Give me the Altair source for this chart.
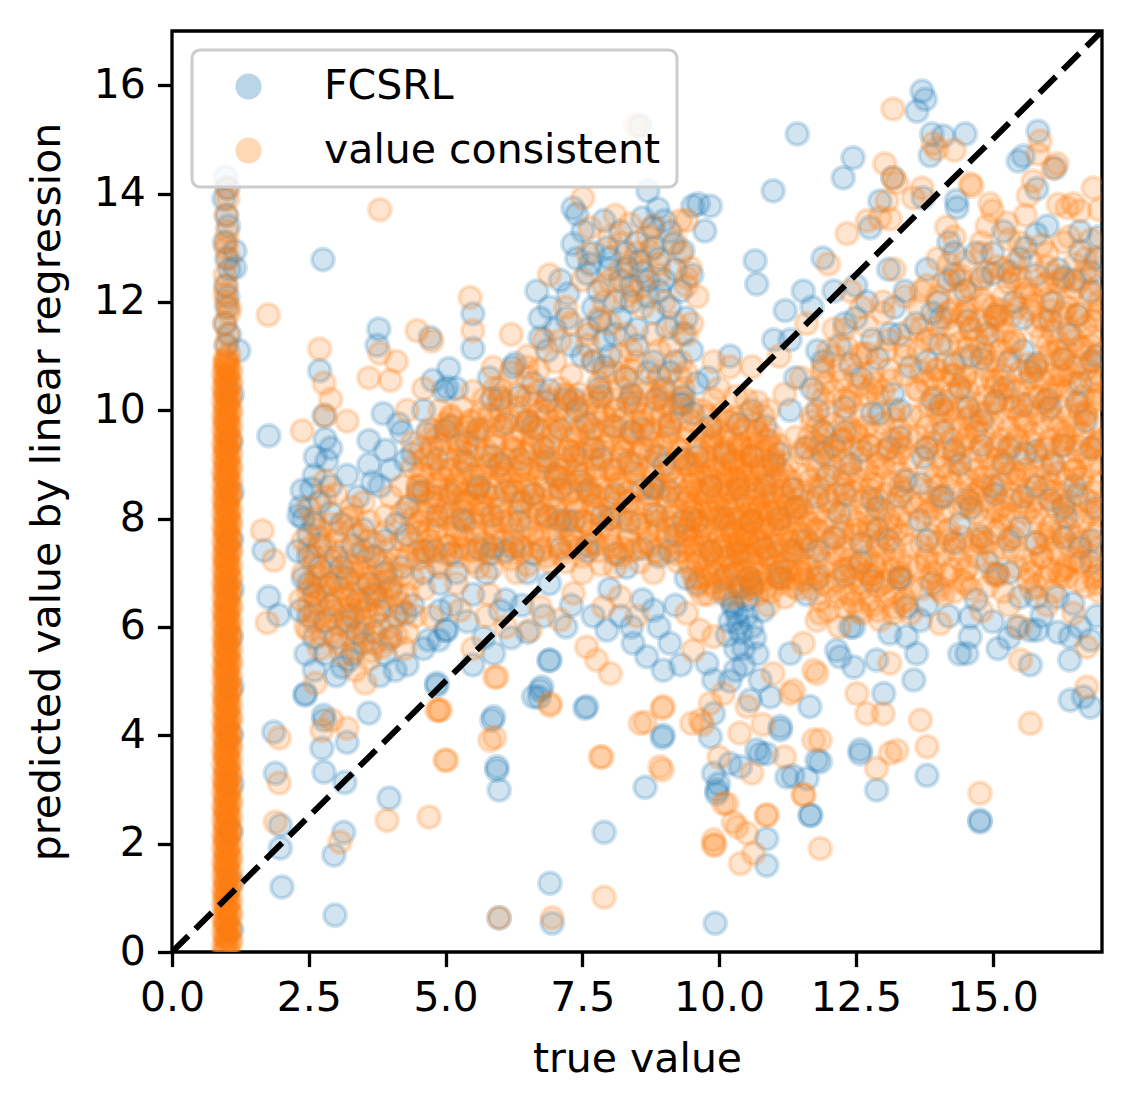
import altair as alt
import pandas as pd

# ---- data (x, y pairs) ----
blue_stripe = [
0.98,14.3, 1.02,14.1, 0.95,13.9, 1.0,13.6, 1.03,13.4, 0.96,13.1, 1.15,12.94, 1.0,12.8, 1.05,12.6, 1.15,12.63,
0.98,12.3, 1.02,12.1, 1.0,11.9, 0.97,11.6, 1.05,11.4, 1.22,11.1, 1.0,11.2,
1.09,0.4, 1.1,1.3, 1.08,2.2, 1.1,3.1, 1.09,4.0, 1.1,4.9, 1.08,5.8, 1.1,6.7, 1.09,7.6, 1.1,8.5, 1.08,9.4, 1.1,10.3]

blue_left = [
1.77,9.53, 1.68,7.41, 1.77,6.55, 1.95,6.22, 1.86,4.06, 1.89,3.3, 1.98,2.34, 1.98,1.92, 2.01,1.2, 2.98,0.68,
2.43,4.74, 2.78,4.28, 2.74,3.76, 3.2,3.87, 2.78,3.32, 3.16,3.13, 3.6,4.41, 3.14,2.21, 2.96,1.79, 3.97,2.84,
2.76,12.78, 3.78,11.5, 3.75,11.2, 2.7,10.73, 2.78,9.9, 2.8,9.47, 2.83,9.07, 2.62,9.14, 3.6,9.44, 2.38,8.52,
2.35,8.21, 2.32,8.06, 3.66,8.67, 4.14,9.75, 5.0,9.63, 3.9,9.26, 4.27,9.07, 4.72,11.34, 5.06,10.77, 4.97,10.36,
4.77,10.55, 3.86,9.94, 4.66,9.57, 3.11,5.26, 3.23,5.39, 4.08,5.2, 4.27,6.25, 4.69,5.76, 4.88,5.76, 5.0,5.94,
4.84,4.96, 2.77,4.37, 4.84,4.92, 2.44,4.77,
2.4,8.0, 2.5,7.7, 2.6,7.9, 2.7,8.3, 2.9,8.1, 3.1,7.9, 2.5,7.3, 2.7,7.1, 2.4,6.9, 2.6,6.6, 2.9,6.8, 3.0,7.3,
3.3,7.5, 3.5,7.8, 3.7,7.3, 3.9,7.6, 4.1,7.9, 4.3,8.2, 4.5,8.5, 3.2,6.9, 3.4,6.5, 3.6,6.8, 3.8,6.3, 4.0,6.7,
4.2,7.1, 2.8,6.1, 3.0,5.8, 3.2,6.1, 3.5,5.7, 3.7,5.9, 3.9,5.5, 2.5,6.2, 2.6,5.8, 3.3,5.5, 4.4,6.4, 4.6,7.0,
4.8,7.4, 2.9,8.6, 3.4,8.4, 3.8,8.6, 4.0,8.9, 4.4,9.2, 2.55,8.55,
2.3,7.4, 2.35,6.3, 2.45,5.5, 2.6,5.2, 3.0,5.1, 3.8,5.1, 4.3,5.3, 4.6,5.6, 4.9,6.3, 4.9,6.8,
2.5,6.8, 2.9,6.4, 3.3,6.2, 3.7,6.6, 4.1,6.2, 2.7,7.5, 3.1,7.1, 3.5,7.4, 3.9,7.0, 4.3,7.7, 2.8,5.5, 3.4,5.9, 4.0,5.8]

blue_middle = [
5.5,11.78, 5.5,11.14, 6.23,10.79, 6.27,10.86, 6.67,12.2, 7.24,12.15, 6.73,11.7, 7.22,11.7, 7.33,13.73, 7.4,13.62,
7.51,13.31, 7.33,13.07, 8.7,14.05, 8.88,13.72, 8.79,13.37, 9.52,13.77, 7.64,12.7, 7.59,12.52, 7.95,13.0, 8.0,12.81,
8.32,12.63, 8.56,12.76, 9.16,13.07, 9.34,12.94, 7.7,11.89, 7.82,11.65, 9.05,11.52, 9.34,11.41, 6.73,11.34, 6.86,11.1,
5.03,10.42, 9.34,10.12, 9.52,9.94, 8.56,15.25, 9.62,13.81, 9.84,13.77, 9.74,13.31, 8.2,12.4, 8.7,12.4, 8.4,12.0,
8.9,12.2, 8.1,11.4, 8.5,11.2, 8.8,10.9, 9.1,10.7, 7.9,10.8, 8.3,10.6, 7.5,11.0, 6.9,10.37, 7.2,10.2, 6.0,10.2,
5.75,6.99, 5.81,7.35, 7.46,8.7, 7.22,7.97, 8.8,8.58, 8.31,7.1, 5.87,7.47, 6.23,7.47, 7.09,7.96, 8.79,8.57,
5.3,8.0, 5.6,8.6, 6.0,9.0, 6.4,8.3, 6.8,9.3, 7.0,8.8, 7.7,9.3, 8.0,8.0, 8.4,9.6, 9.0,9.0, 9.2,7.7, 8.9,7.3,
5.2,7.0, 5.5,6.6, 6.1,6.5, 6.5,7.0, 6.9,6.8, 7.6,7.5, 8.6,6.5, 8.2,6.2, 5.4,9.4, 6.5,9.8, 7.4,10.0,
5.02,5.94, 5.88,5.51, 6.91,5.39, 6.73,4.83, 7.58,4.53, 5.88,4.34, 5.94,3.42, 8.43,5.7, 8.68,5.45, 8.98,5.2,
8.98,4.0, 7.95,5.94, 8.8,6.31, 6.61,4.71, 5.85,4.28, 5.94,3.36, 5.98,2.99, 6.91,1.27, 5.98,0.63, 6.95,0.53,
7.9,2.21, 7.55,4.5, 6.71,4.7, 6.76,4.89, 6.89,5.38, 8.96,3.96, 8.65,3.04, 6.5,5.9, 7.2,6.0, 5.5,5.3, 6.2,5.8,
7.6,11.5, 7.9,11.3, 8.2,11.7, 8.5,11.5, 8.8,11.8, 9.1,11.9, 9.4,11.7, 7.8,12.2, 8.1,12.0, 8.4,12.3,
8.7,12.1, 9.0,12.4, 9.3,12.2, 7.7,12.9, 8.0,12.6, 8.3,12.9, 8.6,12.55, 8.9,12.8, 9.2,12.6, 9.5,12.5,
8.2,13.3, 8.5,13.1, 8.8,13.0, 9.1,13.3, 7.9,13.5, 8.6,13.55, 9.0,13.5, 7.4,12.8, 7.1,12.4, 6.9,11.9,
7.0,11.5, 7.3,11.2, 7.7,10.9, 8.0,11.0, 8.7,10.7, 9.2,10.9, 9.5,11.1, 8.4,10.3, 9.0,10.4, 9.6,10.5,
5.1,6.4, 5.4,6.1, 5.7,5.8, 6.0,6.3, 6.4,6.4, 6.8,6.2, 7.3,6.4, 7.7,6.2, 8.0,6.7, 8.4,6.0,
8.9,6.0, 9.2,6.4, 9.4,6.9, 9.1,5.7, 9.3,5.3]

blue_band = [
4.6,7.4, 5.1,7.35, 5.6,7.45, 6.1,7.4, 6.6,7.35, 7.1,7.45, 7.6,7.4, 8.1,7.35, 8.6,7.45, 9.1,7.4,
4.85,8.05, 5.35,7.95, 5.85,8.05, 6.35,7.95, 6.85,8.05, 7.35,7.95, 7.85,8.05, 8.35,7.95, 8.85,8.05, 9.35,7.95,
4.6,8.5, 5.1,8.45, 5.6,8.55, 6.1,8.5, 6.6,8.45, 7.1,8.55, 7.6,8.5, 8.1,8.45, 8.6,8.55, 9.1,8.5,
4.85,9.1, 5.35,9.05, 5.85,9.15, 6.35,9.1, 6.85,9.05, 7.35,9.15, 7.85,9.1, 8.35,9.05, 8.85,9.15, 9.35,9.1,
5.1,9.7, 5.6,9.65, 6.1,9.75, 6.6,9.7, 7.1,9.65, 7.6,9.75, 8.1,9.7, 8.6,9.65, 9.1,9.75,
5.85,10.2, 6.35,10.25, 6.85,10.15, 7.35,10.2, 7.85,10.25, 8.35,10.15, 8.85,10.2, 9.35,10.25,
9.6,6.8, 10.1,6.9, 10.6,6.8, 11.1,6.9, 9.85,7.4, 10.35,7.35, 10.85,7.45, 11.35,7.4, 9.6,7.95, 10.1,8.0,
10.6,7.95, 11.1,8.0, 9.85,8.6, 10.35,8.55, 10.85,8.6, 11.35,8.55, 9.6,9.15, 10.1,9.2, 10.6,9.15, 11.1,9.2,
9.85,9.7, 10.35,9.75, 10.85,9.7,
11.8,6.9, 12.3,6.95, 12.8,6.85, 13.3,6.9, 11.6,7.6, 12.1,7.65, 12.6,7.55, 13.1,7.6, 11.8,8.4, 12.3,8.45,
12.8,8.35, 13.3,8.4, 11.6,9.3, 12.1,9.35, 12.6,9.25, 13.1,9.3, 11.8,10.0, 12.3,10.05, 12.8,9.95, 13.3,10.0,
11.9,10.9, 12.4,10.85, 12.9,10.95, 13.3,11.4, 12.5,11.7,
13.8,7.6, 14.3,7.55, 14.8,7.65, 15.3,7.6, 15.8,7.55, 16.3,7.65, 16.8,7.6,
14.05,8.4, 14.55,8.35, 15.05,8.45, 15.55,8.4, 16.05,8.35, 16.55,8.45,
13.8,9.3, 14.3,9.25, 14.8,9.35, 15.3,9.3, 15.8,9.25, 16.3,9.35, 16.8,9.3,
14.05,10.1, 14.55,10.05, 15.05,10.15, 15.55,10.1, 16.05,10.05, 16.55,10.15,
13.8,10.9, 14.3,10.85, 14.8,10.95, 15.3,10.9, 15.8,10.85, 16.3,10.95, 16.8,10.9,
14.05,11.7, 14.55,11.65, 15.05,11.75, 15.55,11.7, 16.05,11.65, 16.55,11.75,
14.3,12.5, 14.8,12.45, 15.3,12.55, 15.8,12.5, 16.3,12.45, 16.8,12.55]

blue_upper = [
11.4,10.6, 11.8,11.1, 12.3,11.6, 12.8,11.3, 13.2,11.9, 13.6,11.6, 14.0,12.0, 14.5,12.2, 15.0,12.9, 15.5,12.8,
16.1,12.0, 16.5,12.4, 16.9,12.8, 14.2,13.1, 15.6,13.0,
11.9,9.6, 12.4,9.0, 12.2,8.1, 12.9,7.8, 13.4,8.7, 14.1,9.6, 14.6,8.2, 15.2,9.0, 15.8,8.6, 16.3,8.2,
16.6,10.5, 15.7,10.7, 14.9,11.4, 14.4,10.4, 13.9,10.2,
5.2,10.4, 5.8,10.6, 6.6,10.5, 7.8,10.4, 4.6,10.0, 4.2,9.6, 3.6,9.0, 3.2,8.8, 2.6,8.8, 2.9,9.3]

blue_right = [
13.71,15.89, 13.77,15.74, 13.62,15.52, 11.43,15.1, 13.89,15.1, 14.1,15.06, 14.5,15.1, 13.86,14.7, 12.45,14.66, 12.27,14.29,
10.99,14.05, 15.83,15.15, 15.47,14.6, 15.56,14.69, 16.14,14.47, 15.81,14.09, 13.73,13.92, 14.35,13.74, 10.66,12.76, 10.69,12.33,
11.54,12.2, 11.21,11.84, 11.9,12.81, 12.76,13.37, 12.94,13.86, 14.34,13.87, 13.18,14.29,
13.12,11.41, 13.18,10.3, 13.73,9.13, 14.04,11.22, 15.01,12.52, 15.8,13.25, 16.6,12.94, 15.56,11.1, 16.35,8.03, 15.5,7.84,
14.4,7.9, 13.67,7.97, 13.43,6.37, 14.59,6.18, 15.5,6.55, 15.8,6.55, 16.47,6.43, 15.68,5.94, 13.61,5.51, 16.41,5.39,
13.12,5.88, 12.94,9.94, 9.29,10.12, 10.26,6.37, 10.38,6.74, 12.46,6.0, 10.33,6.25, 10.2,6.1, 10.4,5.9, 10.5,6.5,
10.6,6.0, 10.1,6.6, 10.45,5.6, 10.7,5.5, 10.3,5.2, 10.55,6.9, 13.68,8.64, 15.08,6.98, 16.18,6.55, 16.6,7.47,
16.8,7.2, 12.4,6.0, 12.15,5.57, 12.46,5.26, 12.88,5.39, 13.01,4.77, 13.56,5.02, 13.43,5.82, 13.68,6.12, 14.59,5.82,
14.53,5.51, 15.44,6.0, 15.81,5.94, 15.69,5.3, 16.79,5.76, 16.42,5.82, 16.42,4.65, 16.66,4.71, 16.79,4.52, 12.58,3.66,
12.88,2.99, 13.8,3.26, 14.77,2.43, 11.67,2.53, 11.61,3.2, 11.24,3.23, 11.35,3.25, 11.85,3.51, 10.87,3.66, 10.75,3.66,
10.39,3.42, 9.96,2.99, 9.99,3.1, 10.75,5.02, 10.94,4.71, 11.12,4.16, 9.84,3.97, 9.9,3.3, 9.78,5.33, 9.9,5.02,
11.3,5.51, 12.21,5.45, 12.58,3.73, 11.79,3.54, 10.69,3.73, 10.2,3.48, 11.12,4.1, 11.66,4.53, 10.57,4.65, 9.9,4.4,
10.87,2.09, 10.87,1.6, 11.67,2.52, 9.93,0.53, 14.77,2.4, 9.96,2.92,
11.0,9.0, 11.4,8.2, 11.8,7.4, 12.0,8.8, 12.3,9.6, 12.6,10.6, 12.2,11.2, 11.7,10.4, 11.3,10.0, 12.9,8.2,
13.3,9.5, 13.5,10.8, 13.9,11.8, 14.2,12.4, 14.6,11.0, 14.8,9.8, 15.2,10.4, 15.6,9.2, 16.0,10.2, 16.4,11.4,
16.8,12.2, 16.2,12.6, 15.4,12.0, 14.4,9.0, 14.1,8.4, 15.0,8.6, 16.1,9.0, 16.7,9.8, 16.9,11.0, 14.9,7.2,
15.3,7.0, 13.9,6.8, 12.6,7.2, 11.6,6.6, 11.1,7.0, 16.5,8.6, 16.9,8.2, 13.1,12.6, 12.5,12.3, 11.0,11.3,
10.2,11.0, 9.8,10.6, 10.6,10.0, 11.9,9.2, 14.7,12.9, 16.95,13.2,
13.3,6.9, 13.8,6.4, 14.2,6.2, 14.7,6.5, 15.0,6.1, 15.3,5.8, 15.9,6.2, 16.2,5.9, 16.6,6.0, 16.9,6.2,
14.4,5.5, 15.1,5.6, 11.3,11.3, 11.7,11.9, 12.1,12.2, 12.7,12.0, 13.4,12.2, 13.8,12.6, 14.3,12.9, 15.2,13.3,
16.0,13.4, 16.6,13.3, 10.25,6.45, 10.35,6.05, 10.15,5.85, 10.5,6.2, 10.6,6.7, 10.3,5.6, 10.45,5.3, 10.2,5.0,
10.65,5.8, 10.8,6.3]

orange_stripe = [
0.96,0.02, 1.03,0.09, 0.99,0.15, 1.06,0.22, 0.97,0.28, 1.01,0.35, 1.04,0.41, 0.98,0.47,
0.96,0.54, 1.03,0.6, 0.99,0.66, 1.06,0.73, 0.97,0.8, 1.01,0.86, 1.04,0.92, 0.98,0.99,
0.96,1.05, 1.03,1.12, 0.99,1.18, 1.06,1.24, 0.97,1.31, 1.01,1.37, 1.04,1.44, 0.98,1.5,
0.96,1.57, 1.03,1.63, 0.99,1.69, 1.06,1.76, 0.97,1.82, 1.01,1.89, 1.04,1.95, 0.98,2.02,
0.96,2.08, 1.03,2.15, 0.99,2.21, 1.06,2.27, 0.97,2.34, 1.01,2.4, 1.04,2.47, 0.98,2.53,
0.96,2.6, 1.03,2.66, 0.99,2.72, 1.06,2.79, 0.97,2.85, 1.01,2.92, 1.04,2.98, 0.98,3.05,
0.96,3.11, 1.03,3.18, 0.99,3.24, 1.06,3.3, 0.97,3.37, 1.01,3.43, 1.04,3.5, 0.98,3.56,
0.96,3.63, 1.03,3.69, 0.99,3.75, 1.06,3.82, 0.97,3.88, 1.01,3.95, 1.04,4.01, 0.98,4.08,
0.96,4.14, 1.03,4.21, 0.99,4.27, 1.06,4.33, 0.97,4.4, 1.01,4.46, 1.04,4.53, 0.98,4.59,
0.96,4.66, 1.03,4.72, 0.99,4.78, 1.06,4.85, 0.97,4.91, 1.01,4.98, 1.04,5.04, 0.98,5.11,
0.96,5.17, 1.03,5.24, 0.99,5.3, 1.06,5.36, 0.97,5.43, 1.01,5.49, 1.04,5.56, 0.98,5.62,
0.96,5.69, 1.03,5.75, 0.99,5.81, 1.06,5.88, 0.97,5.94, 1.01,6.01, 1.04,6.07, 0.98,6.14,
0.96,6.2, 1.03,6.27, 0.99,6.33, 1.06,6.39, 0.97,6.46, 1.01,6.52, 1.04,6.59, 0.98,6.65,
0.96,6.72, 1.03,6.78, 0.99,6.84, 1.06,6.91, 0.97,6.97, 1.01,7.04, 1.04,7.1, 0.98,7.17,
0.96,7.23, 1.03,7.3, 0.99,7.36, 1.06,7.42, 0.97,7.49, 1.01,7.55, 1.04,7.62, 0.98,7.68,
0.96,7.75, 1.03,7.81, 0.99,7.87, 1.06,7.94, 0.97,8.0, 1.01,8.07, 1.04,8.13, 0.98,8.2,
0.96,8.26, 1.03,8.33, 0.99,8.39, 1.06,8.45, 0.97,8.52, 1.01,8.58, 1.04,8.65, 0.98,8.71,
0.96,8.78, 1.03,8.84, 0.99,8.9, 1.06,8.97, 0.97,9.03, 1.01,9.1, 1.04,9.16, 0.98,9.23,
0.96,9.29, 1.03,9.36, 0.99,9.42, 1.06,9.48, 0.97,9.55, 1.01,9.61, 1.04,9.68, 0.98,9.74,
0.96,9.81, 1.03,9.87, 0.99,9.93, 1.06,10.0, 0.97,10.06, 1.01,10.13, 1.04,10.19, 0.98,10.26,
0.96,10.32, 1.03,10.39, 0.99,10.45, 1.06,10.51, 0.97,10.58, 1.01,10.64, 1.04,10.71, 0.98,10.77,
0.96,10.84, 1.03,10.9, 0.99,10.96, 1.04,11.03,
0.98,11.2, 1.02,11.4, 0.96,11.6, 1.04,11.8, 0.99,12.0, 1.0,12.3, 0.97,12.5, 1.03,12.8, 0.98,13.0, 1.01,13.3,
0.99,13.6, 1.02,13.9, 1.0,14.1, 0.97,12.15, 1.05,11.9, 1.0,13.1]

orange_stripe_b = [
1.0,0.05, 0.94,0.12, 1.08,0.18, 0.99,0.25, 1.02,0.31, 0.94,0.38, 1.08,0.44, 1.01,0.5,
1.0,0.57, 0.94,0.63, 1.08,0.69, 0.99,0.76, 1.02,0.83, 0.94,0.89, 1.08,0.95, 1.01,1.02,
1.0,1.08, 0.94,1.15, 1.08,1.21, 0.99,1.27, 1.02,1.34, 0.94,1.4, 1.08,1.47, 1.01,1.53,
1.0,1.6, 0.94,1.66, 1.08,1.72, 0.99,1.79, 1.02,1.85, 0.94,1.92, 1.08,1.98, 1.01,2.05,
1.0,2.11, 0.94,2.18, 1.08,2.24, 0.99,2.3, 1.02,2.37, 0.94,2.43, 1.08,2.5, 1.01,2.56,
1.0,2.63, 0.94,2.69, 1.08,2.75, 0.99,2.82, 1.02,2.88, 0.94,2.95, 1.08,3.01, 1.01,3.08,
1.0,3.14, 0.94,3.21, 1.08,3.27, 0.99,3.33, 1.02,3.4, 0.94,3.46, 1.08,3.53, 1.01,3.59,
1.0,3.66, 0.94,3.72, 1.08,3.78, 0.99,3.85, 1.02,3.91, 0.94,3.98, 1.08,4.04, 1.01,4.11,
1.0,4.17, 0.94,4.24, 1.08,4.3, 0.99,4.36, 1.02,4.43, 0.94,4.49, 1.08,4.56, 1.01,4.62,
1.0,4.69, 0.94,4.75, 1.08,4.81, 0.99,4.88, 1.02,4.94, 0.94,5.01, 1.08,5.07, 1.01,5.14,
1.0,5.2, 0.94,5.27, 1.08,5.33, 0.99,5.39, 1.02,5.46, 0.94,5.52, 1.08,5.59, 1.01,5.65,
1.0,5.72, 0.94,5.78, 1.08,5.84, 0.99,5.91, 1.02,5.97, 0.94,6.04, 1.08,6.1, 1.01,6.17,
1.0,6.23, 0.94,6.3, 1.08,6.36, 0.99,6.42, 1.02,6.49, 0.94,6.55, 1.08,6.62, 1.01,6.68,
1.0,6.75, 0.94,6.81, 1.08,6.87, 0.99,6.94, 1.02,7.0, 0.94,7.07, 1.08,7.13, 1.01,7.2,
1.0,7.26, 0.94,7.33, 1.08,7.39, 0.99,7.45, 1.02,7.52, 0.94,7.58, 1.08,7.65, 1.01,7.71,
1.0,7.78, 0.94,7.84, 1.08,7.9, 0.99,7.97, 1.02,8.03, 0.94,8.1, 1.08,8.16, 1.01,8.23,
1.0,8.29, 0.94,8.36, 1.08,8.42, 0.99,8.48, 1.02,8.55, 0.94,8.61, 1.08,8.68, 1.01,8.74,
1.0,8.81, 0.94,8.87, 1.08,8.93, 0.99,9.0, 1.02,9.06, 0.94,9.13, 1.08,9.19, 1.01,9.26,
1.0,9.32, 0.94,9.39, 1.08,9.45, 0.99,9.51, 1.02,9.58, 0.94,9.64, 1.08,9.71, 1.01,9.77,
1.0,9.84, 0.94,9.9, 1.08,9.96, 0.99,10.03, 1.02,10.09, 0.94,10.16, 1.08,10.22, 1.01,10.29,
1.0,10.35, 0.94,10.42, 1.08,10.48, 0.99,10.54, 1.02,10.61, 0.94,10.67, 1.08,10.74, 1.01,10.8,
1.0,10.87, 0.97,10.93]

orange_left = [
3.8,13.7, 1.76,11.76, 3.8,11.05, 4.48,11.47, 4.75,11.28, 2.7,11.13, 2.78,10.5, 3.6,10.6, 3.99,10.55, 2.38,9.62,
2.8,9.9, 1.65,7.78, 1.86,7.23, 1.74,6.08, 1.96,3.95, 1.96,3.12, 1.89,2.4, 2.92,4.28, 3.2,4.13, 2.74,4.09,
3.07,2.03, 3.93,2.43, 4.7,2.49, 4.99,3.54, 4.84,4.46, 2.62,4.96, 3.53,4.96, 3.84,5.63, 4.88,4.46, 2.5,5.94,
2.8,8.7, 3.29,8.21, 2.56,6.74, 4.75,6.19, 2.9,10.2, 3.2,9.8, 4.3,10.0, 4.6,10.4, 4.1,10.9,
2.5,6.4, 2.6,6.1, 2.7,6.7, 2.8,6.3, 2.9,5.9, 3.0,6.5, 3.1,6.9, 3.2,6.2, 3.3,5.8, 3.3,6.6,
3.4,6.3, 3.5,6.9, 3.5,6.0, 3.6,6.5, 3.7,6.2, 3.7,5.7, 3.8,6.8, 3.9,6.4, 4.0,6.0, 4.1,6.6,
4.2,6.3, 4.3,5.9, 3.4,7.1, 3.6,7.3, 2.9,7.1, 2.6,7.3, 2.4,7.6, 2.7,7.8, 3.0,7.6, 3.2,8.0,
2.5,8.2, 2.8,8.4, 3.4,7.7, 3.1,5.5, 3.6,5.4, 2.7,5.6, 3.9,7.2, 4.4,6.9, 4.6,7.3, 4.2,7.6,
3.05,6.05, 3.45,6.45, 3.25,6.35, 3.55,6.15, 3.15,6.6, 3.75,6.55, 2.85,6.55, 2.65,6.9, 4.0,7.0, 3.35,5.2,
2.45,6.0, 2.75,5.85, 3.05,5.7, 3.35,5.6, 3.65,5.55, 3.95,5.75, 4.25,5.6,
2.35,6.5, 2.65,6.45, 2.95,6.3, 3.25,6.5, 3.55,6.35, 3.85,6.55, 4.15,6.45, 4.45,6.2,
2.4,7.0, 2.7,6.95, 3.0,6.85, 3.3,7.0, 3.6,6.9, 3.9,6.85, 4.2,6.95,
2.5,7.45, 2.8,7.5, 3.1,7.4, 3.4,7.35, 3.7,7.55, 4.0,7.45, 4.3,7.3,
2.6,8.0, 2.9,7.9, 3.3,8.05, 3.6,7.95, 3.9,8.05, 4.2,8.1, 3.0,8.45, 3.5,8.3, 4.0,8.4,
2.6,6.25, 2.9,6.15, 3.2,6.0, 3.5,5.85, 3.8,6.05, 4.1,5.85, 2.5,6.65, 2.8,6.75, 3.1,6.7, 3.4,6.8,
3.7,6.7, 4.0,6.75, 4.3,6.6, 2.6,7.15, 2.9,7.25, 3.2,7.2, 3.5,7.1, 3.8,7.15, 4.1,7.25, 2.7,7.65,
3.0,7.75, 3.3,7.8, 3.6,7.6, 3.9,7.75]

orange_middle = [
4.4,8.0, 4.5,8.6, 4.6,9.1, 4.7,7.8, 4.8,8.3, 4.9,8.9, 5.0,7.5, 5.0,9.4, 5.1,8.1, 5.2,8.6,
5.3,7.7, 5.3,9.1, 5.4,8.3, 5.5,8.8, 5.5,7.4, 5.6,9.5, 5.7,8.0, 5.7,8.5, 5.8,9.0, 5.9,7.6,
5.9,9.8, 6.0,8.3, 4.5,7.4, 4.8,9.6, 5.1,9.9, 5.4,9.7, 4.2,8.6, 4.4,9.4, 4.9,7.1, 5.6,7.1,
5.2,6.8, 4.6,6.7, 5.8,6.6, 5.35,8.45, 5.05,8.5, 4.85,8.65, 5.65,8.25,
6.1,8.8, 6.2,9.3, 6.2,7.9, 6.3,8.5, 6.4,9.8, 6.4,7.4, 6.5,8.9, 6.6,8.2, 6.6,9.4, 6.7,7.7,
6.8,8.6, 6.8,10.0, 6.9,9.1, 7.0,8.0, 7.0,9.6, 7.1,8.5, 7.2,10.3, 7.2,9.0, 7.3,7.5, 7.4,8.2,
7.4,9.5, 7.5,8.8, 7.6,10.1, 7.6,7.9, 7.7,9.1, 7.8,8.4, 7.8,10.5, 7.9,9.6, 8.0,7.6, 8.0,8.9,
8.1,10.0, 8.2,9.3, 8.3,8.3, 8.3,10.6, 8.4,7.4, 8.5,9.0, 8.6,9.9, 8.6,8.0, 8.7,10.4, 8.8,9.4,
8.9,7.8, 9.0,8.6, 9.0,10.1, 9.1,9.6, 9.2,8.2, 9.3,10.6, 9.4,9.0, 9.5,9.8, 6.0,10.4, 6.5,10.6,
7.0,10.9, 7.6,11.2, 8.2,11.0, 8.9,11.1, 9.4,11.4, 6.3,7.0, 6.9,7.2, 7.5,7.0, 8.1,7.1, 8.8,7.0,
9.3,7.4, 7.15,8.75, 6.75,9.05, 7.65,8.55, 8.15,8.65, 7.35,9.25, 6.45,8.65, 5.95,8.95, 8.45,9.55,
5.45,12.08, 5.5,11.47, 8.37,13.44, 7.51,13.92, 7.64,13.37, 9.29,13.5, 9.47,12.63, 9.41,12.45, 8.74,12.94, 8.43,12.2,
8.19,13.07, 7.09,11.28, 5.87,10.79, 6.49,10.79, 7.6,12.9, 6.9,12.5, 8.48,15.25, 9.41,13.5,
7.8,11.7, 8.3,11.4, 8.6,11.9, 9.2,11.6, 8.0,12.4, 8.9,12.5, 9.3,12.9, 8.4,12.7, 7.9,12.0, 9.6,12.1,
8.7,13.2, 8.1,13.6, 7.3,11.6, 6.8,11.3,
7.7,10.9, 8.1,10.7, 8.5,10.9, 8.9,10.6, 9.3,10.9, 7.6,11.4, 8.0,11.6, 8.4,11.1, 8.8,11.4, 9.1,11.2,
9.5,11.6, 7.9,12.3, 8.3,12.1, 8.6,12.3, 9.0,12.0, 9.4,12.3, 8.2,12.6, 8.5,12.9, 8.9,12.7, 9.2,13.1,
8.0,13.2, 8.8,13.4, 7.5,12.4, 7.2,11.9, 6.5,11.0, 6.2,11.4,
5.27,6.31, 7.34,6.62, 7.89,6.37, 8.19,6.55, 6.73,6.37, 6.55,5.94, 7.09,6.13, 7.58,5.63, 7.76,5.39, 8.01,5.14,
5.94,5.08, 6.91,4.59, 5.81,3.91, 5.02,3.54, 4.9,4.47, 5.9,3.96, 5.9,5.07, 6.91,4.55, 7.86,3.6, 8.96,4.5,
8.65,4.24, 8.96,3.36, 9.5,4.22, 5.98,0.63, 6.95,0.63, 7.9,1.01, 5.75,6.2, 6.1,6.0, 8.5,6.2, 5.5,5.6]

orange_band = [
4.5,7.25, 4.85,7.15, 5.2,7.3, 5.5,7.2, 5.85,7.1, 6.2,7.25, 6.5,7.15, 6.85,7.3, 7.2,7.2, 7.5,7.3, 7.85,7.15, 8.2,7.3, 8.55,7.2, 8.9,7.35, 9.25,7.2,
4.4,7.55, 4.7,7.6, 5.05,7.5, 5.35,7.65, 5.7,7.55, 6.05,7.6, 6.35,7.5, 6.7,7.6, 7.05,7.5, 7.35,7.65, 7.7,7.55, 8.05,7.5, 8.35,7.6, 8.7,7.55, 9.05,7.65, 9.4,7.5,
4.5,7.9, 4.85,7.95, 5.15,7.85, 5.5,8.0, 5.85,7.9, 6.15,7.95, 6.5,7.85, 6.85,8.0, 7.2,7.9, 7.5,7.95, 7.85,7.85, 8.2,8.0, 8.5,7.9, 8.85,7.95, 9.2,7.85, 9.5,8.0,
4.35,8.25, 4.7,8.3, 5.0,8.2, 5.35,8.3, 5.7,8.25, 6.0,8.2, 6.35,8.3, 6.7,8.25, 7.0,8.2, 7.35,8.3, 7.7,8.25, 8.0,8.2, 8.35,8.3, 8.7,8.25, 9.05,8.2, 9.4,8.3,
4.5,8.6, 4.85,8.55, 5.2,8.65, 5.5,8.6, 5.85,8.55, 6.2,8.65, 6.5,8.6, 6.85,8.55, 7.2,8.65, 7.55,8.6, 7.85,8.55, 8.2,8.65, 8.55,8.6, 8.9,8.55, 9.2,8.65, 9.5,8.6,
4.4,8.95, 4.75,9.0, 5.1,8.9, 5.4,9.0, 5.75,8.95, 6.1,8.9, 6.4,9.0, 6.75,8.95, 7.1,8.9, 7.4,9.0, 7.75,8.95, 8.1,8.9, 8.4,9.0, 8.75,8.95, 9.1,8.9, 9.45,9.0,
4.55,9.3, 4.9,9.35, 5.25,9.25, 5.55,9.3, 5.9,9.35, 6.25,9.25, 6.55,9.3, 6.9,9.35, 7.25,9.25, 7.6,9.3, 7.9,9.35, 8.25,9.25, 8.6,9.3, 8.95,9.35, 9.3,9.25,
4.7,9.65, 5.05,9.7, 5.4,9.6, 5.7,9.65, 6.05,9.7, 6.4,9.6, 6.7,9.65, 7.05,9.7, 7.4,9.6, 7.7,9.65, 8.05,9.7, 8.4,9.6, 8.75,9.65, 9.1,9.7, 9.45,9.6,
4.9,10.0, 5.3,10.05, 5.65,9.95, 6.0,10.0, 6.35,10.05, 6.7,9.95, 7.05,10.0, 7.4,10.05, 7.75,9.95, 8.1,10.0, 8.45,10.05, 8.8,9.95, 9.15,10.0, 9.5,10.05,
5.5,10.35, 5.9,10.4, 6.3,10.3, 6.7,10.35, 7.1,10.4, 7.45,10.3, 7.85,10.35, 8.2,10.4, 8.6,10.3, 8.95,10.35, 9.35,10.4,
6.2,10.7, 6.7,10.75, 7.3,10.65, 7.9,10.7, 8.4,10.75, 8.9,10.65, 9.4,10.7]

orange_band_b = [
4.65,7.4, 5.0,7.35, 5.35,7.45, 5.7,7.4, 6.05,7.35, 6.4,7.45, 6.75,7.4, 7.1,7.35, 7.45,7.45, 7.8,7.4, 8.15,7.35, 8.5,7.45, 8.85,7.4, 9.2,7.35,
4.5,7.75, 4.85,7.8, 5.2,7.7, 5.55,7.75, 5.9,7.8, 6.25,7.7, 6.6,7.75, 6.95,7.8, 7.3,7.7, 7.65,7.75, 8.0,7.8, 8.35,7.7, 8.7,7.75, 9.05,7.8, 9.4,7.7,
4.6,8.1, 4.95,8.05, 5.3,8.15, 5.65,8.1, 6.0,8.05, 6.35,8.15, 6.7,8.1, 7.05,8.05, 7.4,8.15, 7.75,8.1, 8.1,8.05, 8.45,8.15, 8.8,8.1, 9.15,8.05, 9.5,8.15,
4.5,8.45, 4.85,8.4, 5.2,8.5, 5.55,8.45, 5.9,8.4, 6.25,8.5, 6.6,8.45, 6.95,8.4, 7.3,8.5, 7.65,8.45, 8.0,8.4, 8.35,8.5, 8.7,8.45, 9.05,8.4, 9.4,8.5,
4.6,8.8, 4.95,8.75, 5.3,8.85, 5.65,8.8, 6.0,8.75, 6.35,8.85, 6.7,8.8, 7.05,8.75, 7.4,8.85, 7.75,8.8, 8.1,8.75, 8.45,8.85, 8.8,8.8, 9.15,8.75, 9.5,8.85,
4.7,9.15, 5.05,9.1, 5.4,9.2, 5.75,9.15, 6.1,9.1, 6.45,9.2, 6.8,9.15, 7.15,9.1, 7.5,9.2, 7.85,9.15, 8.2,9.1, 8.55,9.2, 8.9,9.15, 9.25,9.1,
4.85,9.5, 5.2,9.45, 5.55,9.55, 5.9,9.5, 6.25,9.45, 6.6,9.55, 6.95,9.5, 7.3,9.45, 7.65,9.55, 8.0,9.5, 8.35,9.45, 8.7,9.55, 9.05,9.5, 9.4,9.45,
5.1,9.85, 5.45,9.8, 5.8,9.9, 6.15,9.85, 6.5,9.8, 6.85,9.9, 7.2,9.85, 7.55,9.8, 7.9,9.9, 8.25,9.85, 8.6,9.8, 8.95,9.9, 9.3,9.85,
5.7,10.2, 6.1,10.15, 6.5,10.25, 6.9,10.2, 7.3,10.15, 7.7,10.25, 8.1,10.2, 8.5,10.15, 8.9,10.25, 9.3,10.2]

orange_band_c = [
4.75,7.5, 5.25,7.45, 5.75,7.5, 6.25,7.55, 6.75,7.45, 7.25,7.5, 7.75,7.55, 8.25,7.45, 8.75,7.5, 9.25,7.55,
4.55,7.95, 5.05,8.0, 5.55,7.9, 6.05,7.95, 6.55,8.0, 7.05,7.9, 7.55,7.95, 8.05,8.0, 8.55,7.9, 9.05,7.95,
4.75,8.4, 5.25,8.35, 5.75,8.45, 6.25,8.4, 6.75,8.35, 7.25,8.45, 7.75,8.4, 8.25,8.35, 8.75,8.45, 9.25,8.4,
4.55,8.85, 5.05,8.9, 5.55,8.8, 6.05,8.85, 6.55,8.9, 7.05,8.8, 7.55,8.85, 8.05,8.9, 8.55,8.8, 9.05,8.85,
4.75,9.3, 5.25,9.35, 5.75,9.25, 6.25,9.3, 6.75,9.35, 7.25,9.25, 7.75,9.3, 8.25,9.35, 8.75,9.25, 9.25,9.3,
5.0,9.75, 5.5,9.8, 6.0,9.7, 6.5,9.75, 7.0,9.8, 7.5,9.7, 8.0,9.75, 8.5,9.8, 9.0,9.7,
6.0,10.25, 6.6,10.15, 7.2,10.25, 7.8,10.15, 8.4,10.25, 9.0,10.15]

orange_right = [
9.5,8.0, 9.6,9.0, 9.7,7.5, 9.7,10.0, 9.8,8.5, 9.9,9.5, 9.9,7.0, 10.0,8.0, 10.0,10.4, 10.1,9.0,
10.1,7.5, 10.2,8.5, 10.2,9.8, 10.3,7.0, 10.3,8.0, 10.4,9.3, 10.4,7.6, 10.5,8.8, 10.5,10.2, 10.6,7.2,
10.6,8.2, 10.7,9.6, 10.7,6.8, 10.8,7.8, 10.8,8.9, 10.9,10.0, 10.9,7.3, 11.0,8.4, 11.0,9.3, 11.1,6.9,
11.1,7.9, 11.2,8.8, 11.2,10.3, 11.3,7.4, 11.4,9.5, 11.4,8.2, 10.15,8.25, 10.35,8.65, 10.55,7.95, 10.45,7.35,
10.25,7.75, 10.65,8.55, 10.05,8.75, 9.85,8.15, 10.75,7.55, 10.95,8.1, 10.3,9.05, 10.6,9.15, 9.6,7.2, 9.4,7.8,
9.8,6.6, 10.9,6.4, 10.4,6.6, 11.5,7.0, 10.2,10.8, 9.9,10.9, 10.6,10.8, 11.1,11.0, 10.35,7.55, 10.5,7.7,
10.15,7.3, 10.7,8.1,
9.41,6.25, 9.65,5.94, 9.9,5.82, 9.53,5.57, 10.08,4.77, 10.38,4.04, 9.7,4.2, 8.98,4.53, 8.56,4.22, 7.83,3.6,
8.92,3.42, 10.99,5.14, 11.36,4.83, 11.73,3.91, 11.79,5.14, 12.52,4.77, 13.0,4.4, 13.13,3.67, 12.94,6.13, 11.85,6.25,
11.54,5.7, 9.66,4.28, 9.84,4.59, 10.51,4.53, 11.3,4.77, 11.73,5.2, 11.79,6.12, 11.85,3.91, 11.54,2.9, 10.87,2.53,
10.33,2.31, 9.9,2.07, 10.14,2.74, 9.9,1.97, 9.92,1.98, 10.39,1.63, 10.26,2.4, 10.51,2.19, 10.63,1.82, 10.87,2.52,
11.85,1.91, 10.08,2.74, 11.55,2.9, 10.6,3.3, 10.0,3.6, 11.2,3.6, 10.8,4.2,
11.6,8.8, 11.7,9.8, 11.8,7.8, 11.9,10.8, 12.0,8.3, 12.0,9.3, 12.1,11.5, 12.2,7.3, 12.3,8.8, 12.3,10.2,
12.4,6.6, 12.5,7.8, 12.5,9.6, 12.6,11.0, 12.7,7.0, 12.7,8.4, 12.8,6.4, 12.8,10.4, 12.9,7.5, 12.9,9.0,
13.0,11.8, 13.0,6.8, 13.1,8.0, 13.2,10.0, 13.2,7.2, 13.3,9.2, 13.4,11.0, 13.4,6.5, 12.6,6.8, 12.4,7.1,
12.85,7.1, 12.55,6.3, 11.6,11.6, 12.4,12.2, 13.2,12.6, 12.0,12.7, 12.34,13.26, 12.71,13.5, 13.03,14.55, 13.18,14.29,
13.25,14.2, 13.07,13.86, 12.94,13.55, 13.13,13.53, 13.18,15.56, 11.5,9.2, 11.5,10.6, 11.9,6.8, 12.2,6.0,
13.6,8.2, 13.6,10.4, 13.7,12.2, 13.8,7.2, 13.8,9.3, 13.9,11.3, 14.0,8.6, 14.0,12.8, 14.1,6.6, 14.1,10.0,
14.2,7.8, 14.2,11.8, 14.3,9.2, 14.4,12.4, 14.4,8.2, 14.5,10.6, 14.5,6.8, 14.6,11.5, 14.7,7.6, 14.7,9.6,
14.8,12.9, 14.8,8.6, 14.9,10.9, 15.0,7.0, 15.0,11.9, 15.1,9.1, 15.2,8.0, 15.2,12.6, 15.3,10.2, 15.4,7.4,
15.4,11.3, 15.5,8.8, 15.5,13.1, 15.6,9.8, 15.7,6.7, 15.7,12.1, 15.8,8.1, 15.8,10.8, 15.9,7.3, 15.9,11.7,
16.0,9.3, 16.0,12.9, 16.1,8.5, 16.1,10.4, 16.2,7.0, 16.2,11.1, 16.3,12.4, 16.3,9.6, 16.4,7.8, 16.4,13.2,
16.5,10.8, 16.5,8.9, 16.6,11.8, 16.6,7.2, 16.7,9.9, 16.7,12.8, 16.8,8.3, 16.8,11.2, 16.9,10.2, 16.9,6.8,
16.95,13.7, 16.95,12.0, 16.95,9.4, 14.3,13.2, 14.9,13.4, 15.6,13.6, 16.2,13.8, 14.62,14.14, 13.71,14.1, 13.55,13.92,
15.0,13.68, 15.26,13.46, 16.36,13.74, 16.47,13.81, 16.84,14.1, 15.74,14.23, 15.65,13.96, 15.83,14.73, 16.18,14.55, 16.1,14.47,
15.87,14.97, 13.91,14.92, 13.98,14.82, 14.3,14.8, 14.59,14.18, 14.95,13.81, 16.6,13.68, 14.16,13.38, 16.35,6.92, 16.6,7.17,
15.5,6.0, 14.04,6.68, 13.12,5.33, 15.69,4.22, 14.77,2.93, 15.51,5.39, 16.48,6.25, 16.72,5.63, 16.72,4.89, 13.8,3.79,
13.25,3.72, 12.88,3.39, 12.7,4.4, 13.68,4.28, 13.19,6.25, 14.04,6.06, 16.0,6.4, 14.8,6.3, 15.3,6.4, 15.45,9.45,
14.55,9.85, 15.85,10.25, 16.25,10.65, 14.25,10.65, 15.05,10.45, 16.55,9.35, 15.15,11.65, 14.65,8.45, 15.35,8.35, 16.05,7.75,
13.95,10.75]

orange_core = [
9.7,6.6, 9.95,6.7, 10.2,6.55, 10.45,6.7, 10.7,6.6, 10.95,6.65, 11.2,6.55, 11.45,6.7,
9.55,6.9, 9.8,6.95, 10.05,6.85, 10.3,6.95, 10.55,6.9, 10.8,6.85, 11.05,6.95, 11.3,6.9, 11.55,6.85,
9.45,7.2, 9.7,7.25, 9.95,7.15, 10.2,7.25, 10.45,7.2, 10.7,7.15, 10.95,7.25, 11.2,7.2, 11.45,7.15,
9.55,7.5, 9.8,7.55, 10.05,7.45, 10.3,7.5, 10.55,7.55, 10.8,7.45, 11.05,7.5, 11.3,7.55, 11.55,7.45,
9.45,7.8, 9.7,7.85, 9.95,7.75, 10.2,7.85, 10.45,7.8, 10.7,7.75, 10.95,7.85, 11.2,7.8, 11.45,7.75,
9.55,8.1, 9.8,8.15, 10.05,8.05, 10.3,8.15, 10.55,8.1, 10.8,8.05, 11.05,8.15, 11.3,8.1, 11.55,8.05,
9.45,8.4, 9.7,8.45, 9.95,8.35, 10.2,8.45, 10.45,8.4, 10.7,8.35, 10.95,8.45, 11.2,8.4, 11.45,8.35,
9.55,8.7, 9.8,8.75, 10.05,8.65, 10.3,8.75, 10.55,8.7, 10.8,8.65, 11.05,8.75, 11.3,8.7,
9.5,9.0, 9.75,9.05, 10.0,8.95, 10.25,9.05, 10.5,9.0, 10.75,8.95, 11.0,9.05, 11.25,9.0,
9.6,9.3, 9.85,9.35, 10.1,9.25, 10.35,9.35, 10.6,9.3, 10.85,9.25, 11.1,9.35,
9.7,9.6, 9.95,9.65, 10.2,9.55, 10.45,9.65, 10.7,9.6, 10.95,9.55,
9.8,9.9, 10.05,9.95, 10.3,9.85, 10.55,9.95, 10.8,9.9, 9.9,10.2, 10.3,10.25, 10.7,10.15,
9.6,6.75, 9.85,6.8, 10.1,6.7, 10.35,6.8, 10.6,6.75, 10.85,6.7, 11.1,6.8, 11.35,6.75,
9.5,7.05, 9.75,7.1, 10.0,7.0, 10.25,7.1, 10.5,7.05, 10.75,7.0, 11.0,7.1, 11.25,7.05, 11.5,7.0,
9.6,7.35, 9.85,7.4, 10.1,7.3, 10.35,7.4, 10.6,7.35, 10.85,7.3, 11.1,7.4, 11.35,7.35,
9.5,7.65, 9.75,7.7, 10.0,7.6, 10.25,7.7, 10.5,7.65, 10.75,7.6, 11.0,7.7, 11.25,7.65, 11.5,7.6,
9.6,7.95, 9.85,8.0, 10.1,7.9, 10.35,8.0, 10.6,7.95, 10.85,7.9, 11.1,8.0, 11.35,7.95,
9.5,8.25, 9.75,8.3, 10.0,8.2, 10.25,8.3, 10.5,8.25, 10.75,8.2, 11.0,8.3, 11.25,8.25, 11.5,8.2,
9.6,8.55, 9.85,8.6, 10.1,8.5, 10.35,8.6, 10.6,8.55, 10.85,8.5, 11.1,8.6, 11.35,8.55,
9.65,8.85, 9.9,8.9, 10.15,8.8, 10.4,8.9, 10.65,8.85, 10.9,8.8, 11.15,8.9,
9.75,9.15, 10.0,9.2, 10.25,9.1, 10.5,9.2, 10.75,9.15, 11.0,9.1,
9.85,9.45, 10.1,9.5, 10.35,9.4, 10.6,9.5, 10.85,9.45,
9.65,6.9, 10.15,6.95, 10.65,6.85, 11.15,6.9, 9.9,7.3, 10.4,7.25, 10.9,7.35, 11.4,7.3, 9.65,7.7, 10.15,7.75,
10.65,7.65, 11.15,7.7, 9.9,8.1, 10.4,8.05, 10.9,8.15, 11.4,8.1, 9.65,8.5, 10.15,8.55, 10.65,8.45, 11.15,8.5,
9.9,8.95, 10.4,8.9, 10.9,9.0, 9.9,9.4, 10.4,9.35, 10.9,9.45, 10.15,9.8, 10.65,9.75]

orange_d = [
12.0,6.3, 12.3,6.35, 12.6,6.25, 12.9,6.3, 13.2,6.35, 13.5,6.25,
11.7,6.7, 12.0,6.75, 12.3,6.65, 12.6,6.7, 12.9,6.75, 13.2,6.65, 13.5,6.7,
11.65,7.1, 11.95,7.15, 12.25,7.05, 12.55,7.1, 12.85,7.15, 13.15,7.05, 13.45,7.1,
11.7,7.5, 12.0,7.55, 12.3,7.45, 12.6,7.5, 12.9,7.55, 13.2,7.45, 13.5,7.5,
11.65,7.9, 11.95,7.95, 12.25,7.85, 12.55,7.9, 12.85,7.95, 13.15,7.85, 13.45,7.9,
11.7,8.3, 12.0,8.35, 12.3,8.25, 12.6,8.3, 12.9,8.35, 13.2,8.25, 13.5,8.3,
11.65,8.7, 11.95,8.75, 12.25,8.65, 12.55,8.7, 12.85,8.75, 13.15,8.65, 13.45,8.7,
11.7,9.1, 12.0,9.15, 12.3,9.05, 12.6,9.1, 12.9,9.15, 13.2,9.05, 13.5,9.1,
11.65,9.5, 11.95,9.55, 12.25,9.45, 12.55,9.5, 12.85,9.55, 13.15,9.45, 13.45,9.5,
11.7,9.9, 12.0,9.95, 12.3,9.85, 12.6,9.9, 13.2,9.85, 13.5,9.9,
11.8,10.3, 12.1,10.35, 12.4,10.25, 12.7,10.3, 13.0,10.35,
11.9,10.7, 12.2,10.75, 12.5,10.65, 12.8,10.7, 13.1,10.75, 13.4,10.65,
12.0,11.1, 12.35,11.15, 12.7,11.05, 13.05,11.1, 13.4,11.15,
12.3,11.5, 12.7,11.55, 13.5,11.5, 12.6,11.9, 13.0,12.0, 13.4,12.1,
11.85,6.5, 12.15,6.55, 12.45,6.45, 12.75,6.5, 13.05,6.55, 13.35,6.45,
11.55,6.9, 11.85,6.95, 12.15,6.85, 12.45,6.9, 12.75,6.95, 13.05,6.85, 13.35,6.9,
11.8,7.3, 12.1,7.35, 12.4,7.25, 12.7,7.3, 13.0,7.35, 13.3,7.25,
11.55,7.7, 11.85,7.75, 12.15,7.65, 12.45,7.7, 12.75,7.75, 13.05,7.65, 13.35,7.7,
11.8,8.1, 12.1,8.15, 12.4,8.05, 12.7,8.1, 13.0,8.15, 13.3,8.05,
11.55,8.5, 11.85,8.55, 12.15,8.45, 12.45,8.5, 12.75,8.55, 13.05,8.45, 13.35,8.5,
11.8,8.9, 12.1,8.95, 12.4,8.85, 12.7,8.9, 13.0,8.95, 13.3,8.85,
11.55,9.3, 11.85,9.35, 12.15,9.25, 12.45,9.3, 12.75,9.35, 13.05,9.25, 13.35,9.3,
11.8,9.7, 12.1,9.75, 12.4,9.65, 12.7,9.7, 13.0,9.75, 13.3,9.65,
11.95,10.5, 12.25,10.55, 12.55,10.45, 12.85,10.5, 13.15,10.55,
11.8,7.0, 12.3,7.05, 12.8,6.95, 13.3,7.0, 11.75,7.8, 12.25,7.75, 12.75,7.85, 13.25,7.8, 11.8,8.6, 12.3,8.55,
12.8,8.65, 13.3,8.6, 11.75,9.4, 12.25,9.45, 12.75,9.35, 13.25,9.4, 11.9,10.2, 12.4,10.15, 12.9,10.25, 12.1,11.0,
12.6,11.05, 13.1,11.3]

orange_e = [
13.7,6.7, 14.0,6.75, 14.3,6.65, 14.6,6.7, 14.9,6.75, 15.2,6.65, 15.8,6.75, 16.1,6.65, 16.7,6.75, 16.95,6.65,
13.65,7.1, 13.95,7.15, 14.25,7.05, 14.55,7.1, 15.45,7.1, 15.75,7.15, 16.05,7.05, 16.35,7.1, 16.95,7.05,
13.7,7.5, 14.0,7.55, 14.3,7.45, 14.6,7.5, 14.9,7.55, 15.2,7.45, 15.8,7.55, 16.1,7.45, 16.4,7.5, 16.95,7.45,
13.95,7.95, 14.85,7.95, 15.15,7.85, 15.75,7.95, 16.05,7.85, 16.65,7.95, 16.95,7.85,
13.7,8.3, 14.0,8.35, 14.6,8.3, 14.9,8.35, 15.2,8.25, 15.5,8.3, 15.8,8.35, 16.1,8.25, 16.4,8.3, 16.7,8.35,
13.95,8.75, 14.25,8.65, 14.55,8.7, 14.85,8.75, 15.15,8.65, 15.45,8.7, 15.75,8.75, 16.05,8.65, 16.35,8.7, 16.65,8.75, 16.95,8.65,
14.0,9.15, 14.3,9.05, 14.6,9.1, 14.9,9.15, 15.2,9.05, 15.5,9.1, 15.8,9.15, 16.1,9.05, 16.4,9.1, 16.7,9.15, 16.95,9.05,
13.65,9.5, 13.95,9.55, 14.25,9.45, 14.55,9.5, 14.85,9.55, 15.15,9.45, 15.45,9.5, 15.75,9.55, 16.05,9.45, 16.35,9.5, 16.65,9.55, 16.95,9.45,
13.7,9.9, 14.0,9.95, 14.3,9.85, 14.6,9.9, 14.9,9.95, 15.2,9.85, 15.5,9.9, 15.8,9.95, 16.1,9.85, 16.4,9.9, 16.7,9.95,
13.65,10.35, 13.95,10.25, 14.25,10.3, 14.55,10.35, 14.85,10.25, 15.15,10.3, 15.45,10.35, 15.75,10.25, 16.05,10.3, 16.35,10.35, 16.65,10.25, 16.95,10.3,
13.7,10.7, 14.0,10.75, 14.3,10.65, 14.9,10.75, 15.2,10.65, 15.5,10.7, 15.8,10.75, 16.1,10.65, 16.4,10.7, 16.7,10.75, 16.95,10.65,
13.65,11.1, 14.55,11.15, 14.85,11.05, 15.15,11.1, 16.05,11.05, 16.35,11.1, 16.65,11.15, 16.95,11.05,
13.7,11.5, 14.0,11.55, 14.3,11.45, 14.6,11.5, 14.9,11.55, 15.2,11.45, 15.8,11.55, 16.1,11.45, 16.4,11.5, 16.7,11.55,
13.65,11.9, 14.25,11.85, 14.55,11.9, 14.85,11.95, 15.15,11.85, 15.45,11.9, 15.75,11.95, 16.05,11.85, 16.35,11.9, 16.95,11.85,
13.8,12.3, 14.1,12.35, 14.6,12.25, 15.3,12.35, 15.6,12.25, 15.9,12.3, 16.2,12.35, 16.5,12.25, 16.95,12.3,
14.2,12.7, 14.5,12.75, 15.1,12.65, 15.4,12.7, 15.7,12.75, 16.0,12.65, 16.5,12.7, 16.9,12.75,
14.8,13.1, 15.3,13.15, 15.9,13.05, 16.3,13.1, 16.8,13.15]

orange_e_b = [
13.85,6.9, 14.15,6.95, 14.45,6.85, 15.05,6.95, 15.65,6.85, 15.95,6.9, 16.25,6.95, 16.55,6.85, 16.85,6.9,
13.8,7.3, 14.1,7.35, 14.4,7.25, 14.7,7.3, 15.0,7.35, 15.6,7.25, 15.9,7.3, 16.2,7.35, 16.5,7.25, 16.8,7.3,
13.85,7.7, 14.15,7.75, 14.45,7.65, 14.75,7.7, 15.05,7.75, 15.35,7.65, 15.95,7.7, 16.25,7.75, 16.55,7.65, 16.85,7.7,
13.8,8.1, 14.1,8.15, 14.7,8.1, 15.0,8.15, 15.3,8.05, 15.6,8.1, 16.2,8.15, 16.5,8.05, 16.8,8.1,
13.85,8.5, 14.45,8.45, 14.75,8.5, 15.05,8.55, 15.35,8.45, 15.65,8.5, 15.95,8.55, 16.25,8.45, 16.85,8.5,
13.8,8.9, 14.1,8.95, 14.4,8.85, 14.7,8.9, 15.0,8.95, 15.3,8.85, 15.6,8.9, 15.9,8.95, 16.2,8.85, 16.5,8.9, 16.8,8.95,
14.15,9.3, 14.45,9.35, 14.75,9.25, 15.05,9.3, 15.35,9.35, 15.95,9.3, 16.25,9.35, 16.55,9.25, 16.85,9.3,
13.8,9.7, 14.1,9.75, 14.4,9.65, 14.7,9.7, 15.0,9.75, 15.3,9.65, 15.6,9.7, 15.9,9.75, 16.2,9.65, 16.5,9.7, 16.8,9.75,
13.85,10.1, 14.15,10.15, 14.45,10.05, 14.75,10.1, 15.05,10.15, 15.35,10.05, 15.65,10.1, 15.95,10.15, 16.25,10.05, 16.55,10.1, 16.85,10.15,
13.8,10.5, 14.1,10.55, 14.4,10.45, 14.7,10.5, 15.0,10.55, 15.3,10.45, 15.6,10.5, 15.9,10.55, 16.2,10.45, 16.5,10.5, 16.8,10.55,
14.15,10.9, 14.45,10.95, 15.05,10.9, 15.35,10.95, 15.65,10.85, 15.95,10.9, 16.25,10.95, 16.55,10.85, 16.85,10.9,
13.8,11.3, 14.4,11.25, 14.7,11.3, 15.0,11.35, 15.3,11.25, 15.9,11.35, 16.2,11.25, 16.5,11.3, 16.8,11.35,
14.15,11.7, 14.45,11.75, 14.75,11.65, 15.05,11.7, 15.35,11.75, 15.95,11.65, 16.25,11.7, 16.55,11.75, 16.85,11.65,
14.0,12.1, 14.4,12.15, 14.8,12.05, 15.2,12.1, 15.6,12.15, 16.0,12.05, 16.4,12.1, 16.8,12.15,
14.4,12.5, 14.9,12.55, 15.5,12.45, 16.1,12.5, 16.7,12.55,
13.9,7.0, 14.5,7.05, 15.1,6.95, 15.7,7.0, 16.3,7.05, 16.9,6.95, 14.2,7.6, 14.8,7.55, 15.4,7.65, 16.0,7.6,
16.6,7.55, 13.9,8.2, 14.5,8.25, 15.1,8.15, 15.7,8.2, 16.3,8.25, 16.9,8.15, 14.2,8.8, 14.8,8.75, 15.4,8.85,
16.0,8.8, 16.6,8.75, 13.9,9.4, 14.5,9.45, 15.1,9.35, 15.7,9.4, 16.3,9.45, 16.9,9.35, 14.2,10.0, 14.8,9.95,
15.4,10.05, 16.0,10.0, 16.6,9.95, 13.9,10.6, 14.5,10.65, 15.1,10.55, 15.7,10.6, 16.3,10.65, 16.9,10.55, 14.2,11.2,
14.8,11.15, 15.4,11.25, 16.0,11.2, 16.6,11.15, 14.5,11.8, 15.1,11.75, 15.7,11.85, 16.3,11.8, 16.9,11.75, 14.8,12.4,
15.4,12.45, 16.0,12.35, 16.6,12.4]

series_names = ["FCSRL", "value consistent"]
series_colors = ["#1f77b4", "#ff7f0e"]
x_ticks = [0.0, 2.5, 5.0, 7.5, 10.0, 12.5, 15.0]
y_ticks = [0, 2, 4, 6, 8, 10, 12, 14, 16]
axis_range = [0, 17]
diag = [0, 17]

# ---- build table ----
rows = []
groups = [(series_names[0], [blue_stripe, blue_left, blue_middle, blue_band, blue_upper, blue_right]),
          (series_names[1], [orange_stripe, orange_stripe_b, orange_left, orange_middle, orange_band,
                             orange_band_b, orange_band_c, orange_right, orange_core, orange_d,
                             orange_e, orange_e_b])]
i = 0
for name, lists in groups:
    for lst in lists:
        for x, y in zip(lst[0::2], lst[1::2]):
            rows.append({"true": x, "pred": y, "series": name, "idx": i})
            i += 1
df = pd.DataFrame(rows)
diag_df = pd.DataFrame({"v": diag})

FONT = "DejaVu Sans"

legend = alt.Legend(
    title=None, orient="none", legendX=20, legendY=19,
    fillColor="rgba(255,255,255,0.8)", strokeColor="#cccccc", cornerRadius=8,
    padding=16, rowPadding=22, symbolSize=490, symbolStrokeWidth=4,
    symbolOpacity=0.3, symbolOffset=20, labelOffset=55,
    labelFont=FONT, labelFontSize=41, labelColor="black", labelLimit=800,
)

xscale = alt.Scale(domain=axis_range, nice=False, zero=False)
yscale = alt.Scale(domain=axis_range, nice=False, zero=False)

points = alt.Chart(df).mark_point(
    filled=True, size=490, fillOpacity=0.2, strokeOpacity=0.2, strokeWidth=4, clip=True
).encode(
    x=alt.X("true:Q", scale=xscale,
            axis=alt.Axis(values=x_ticks, format=".1f", title="true value", titlePadding=21)),
    y=alt.Y("pred:Q", scale=yscale,
            axis=alt.Axis(values=y_ticks, format="d", title="predicted value by linear regression",
                          titlePadding=25)),
    color=alt.Color("series:N", scale=alt.Scale(domain=series_names, range=series_colors), legend=legend),
    stroke=alt.Stroke("series:N", scale=alt.Scale(domain=series_names, range=series_colors), legend=legend),
    order=alt.Order("idx:Q"),
)

line = alt.Chart(diag_df).mark_line(
    color="black", strokeDash=[23, 10], strokeWidth=6, clip=True
).encode(x=alt.X("v:Q", scale=xscale), y=alt.Y("v:Q", scale=yscale))

chart = alt.layer(points, line).properties(
    width=930, height=921,
    autosize=alt.AutoSizeParams(type="none"),
    padding={"left": 164, "top": 23, "right": 20, "bottom": 150},
    background="white",
).configure_view(
    stroke="black", strokeWidth=3.3
).configure_axis(
    labelFont=FONT, labelFontSize=41, labelColor="black",
    titleFont=FONT, titleFontSize=41, titleFontWeight="normal", titleColor="black",
    tickColor="black", tickWidth=3.3, tickSize=14.6, labelPadding=12,
    grid=False, domain=False, labelFlush=False, labelOverlap=False,
).configure_legend(strokeWidth=3)

chart.save("out.html", embed_options={"renderer": "svg", "actions": False})
